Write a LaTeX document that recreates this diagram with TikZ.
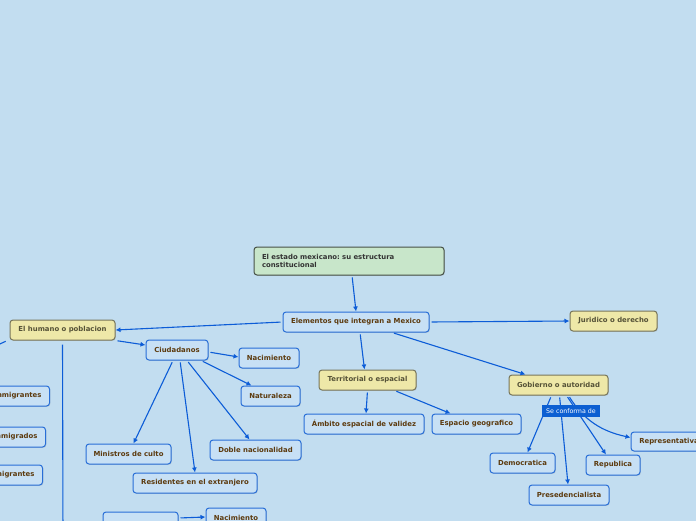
\documentclass[tikz,border=0pt]{standalone}
\usepackage{fontspec}
\setmainfont{DejaVu Sans}
\usetikzlibrary{arrows.meta,shadows}
\frenchspacing
\definecolor{bgc}{RGB}{194,221,240}
\definecolor{bfill}{RGB}{199,224,245}
\definecolor{bdraw}{RGB}{40,110,215}
\definecolor{btext}{RGB}{92,58,14}
\definecolor{yfill}{RGB}{238,232,168}
\definecolor{ydraw}{RGB}{120,118,90}
\definecolor{ytext}{RGB}{85,82,55}
\definecolor{gfill}{RGB}{200,230,202}
\definecolor{gdraw}{RGB}{70,80,70}
\definecolor{linec}{RGB}{12,92,215}
\definecolor{lblfill}{RGB}{12,95,210}
\tikzset{
  base/.style={rounded corners=3pt, line width=1pt, font=\fontsize{6.9}{8.5}\selectfont\bfseries,
    inner sep=2pt, minimum height=20pt, drop shadow={opacity=0.25,shadow xshift=0.8pt,shadow yshift=-0.8pt}},
  bluebox/.style={base, fill=bfill, draw=bdraw, text=btext},
  yellowbox/.style={base, fill=yfill, draw=ydraw, text=ytext},
  rootbox/.style={base, fill=gfill, draw=gdraw, text=black!80, align=left, text width=174pt, inner xsep=8pt, minimum height=28pt},
  edgebox/.style={bluebox, anchor=east, inner xsep=8pt},
  conn/.style={draw=linec, line width=1.1pt, -{Latex[length=5pt,width=5pt]}, shorten <=2pt},
  plain/.style={draw=linec, line width=1.1pt},
  lbl/.style={fill=lblfill, text=white, font=\fontsize{6.3}{7}\selectfont, inner sep=1.5pt, minimum width=58pt, minimum height=12pt}
}
\begin{document}
\begin{tikzpicture}[x=1pt,y=-1pt]
\useasboundingbox (0,0) rectangle (696,520);
\clip (0,0) rectangle (696,520);
\fill[bgc] (-5,-5) rectangle (701,525);

% nodes
\node[rootbox] (root) at (349,261) {El estado mexicano: su estructura\\constitucional};
\node[bluebox, minimum width=146pt] (elem) at (356,322) {Elementos que integran a Mexico};
\node[yellowbox, minimum width=87pt] (jur) at (613.5,321) {Juridico o derecho};
\node[yellowbox, minimum width=105pt] (hum) at (62.5,330) {El humano o poblacion};
\node[bluebox, minimum width=62pt] (ciud) at (177,350) {Ciudadanos};
\node[bluebox, minimum width=60pt] (nac1) at (269,358) {Nacimiento};
\node[bluebox, minimum width=59pt] (nat) at (270.5,396) {Naturaleza};
\node[bluebox, minimum width=91pt] (doble) at (255.5,450) {Doble nacionalidad};
\node[bluebox, minimum width=85pt] (mini) at (128.5,454) {Ministros de culto};
\node[bluebox, minimum width=124pt] (res) at (195,483) {Residentes en el extranjero};
\node[bluebox, minimum width=75pt] (bot) at (140.5,522) {};
\node[bluebox, minimum width=60pt] (nac2) at (236,518) {Nacimiento};
\node[yellowbox, minimum width=97pt] (terr) at (367.5,380) {Territorial o espacial};
\node[bluebox, minimum width=120pt] (amb) at (364,424) {Ámbito espacial de validez};
\node[bluebox, minimum width=89pt] (esp) at (476.5,424) {Espacio geografico};
\node[yellowbox, minimum width=99pt] (gob) at (558.5,385) {Gobierno o autoridad};
\node[bluebox, minimum width=65pt] (demo) at (522.5,463) {Democratica};
\node[bluebox, minimum width=80pt] (pres) at (569,495) {Presedencialista};
\node[bluebox, minimum width=54pt] (repu) at (613,465) {Republica};
\node[bluebox, minimum width=76pt, minimum height=19pt] (repr) at (669,441.5) {Representativa};
\node[edgebox] (inm) at (50,396) {Inmigrantes};
\node[edgebox] (emi) at (46,437) {Inmigrados};
\node[edgebox] (mig) at (43,475) {Emigrantes};

\coordinate (offl) at (-20,353);
\coordinate (offb) at (63,540);

% connectors
\draw[conn] ([xshift=3pt]root.south) -- (elem.north);
\draw[conn] (elem.west) -- (hum.east);
\draw[conn] (elem.east) -- (jur.west);
\draw[conn] ([xshift=4pt]elem.south) -- ([xshift=-3pt]terr.north);
\draw[conn] ([xshift=36pt]elem.south) -- ([xshift=-33pt]gob.north);
\draw[conn] (hum.south east) -- ([yshift=5pt]ciud.west);
\draw[conn] ([yshift=-2pt]ciud.east) -- ([yshift=1pt]nac1.west);
\draw[conn] ([xshift=24pt]ciud.south) -- ([xshift=-19pt]nat.north);
\draw[conn] ([xshift=10pt]ciud.south) -- ([xshift=-6pt]doble.north);
\draw[conn] ([xshift=-4pt]ciud.south) -- ([xshift=5pt]mini.north);
\draw[conn] ([xshift=3pt]ciud.south) -- (res.north);
\draw[conn] (terr.south) -- ([xshift=2pt]amb.north);
\draw[conn] ([xshift=27pt]terr.south) -- ([xshift=-26pt]esp.north);
\draw[conn] ([xshift=-7pt]gob.south) -- ([xshift=5pt]demo.north);
\draw[conn] ([xshift=1pt]gob.south) -- ([xshift=-1pt]pres.north);
\draw[conn] ([xshift=8pt]gob.south) -- ([xshift=-7pt]repu.north);
\draw[conn] ([xshift=10pt]gob.south) to[out=-58,in=168] ([yshift=4pt]repr.west);
\draw[conn] ([yshift=4pt]bot.east) -- ([yshift=1pt]nac2.west);
\draw[plain, shorten <=2pt] ([xshift=-2pt]hum.south west) -- (offl);
\draw[plain, shorten <=4pt] (hum.south) -- (offb);

\node[lbl] (conf) at (571,411) {Se conforma de};
\end{tikzpicture}
\end{document}
